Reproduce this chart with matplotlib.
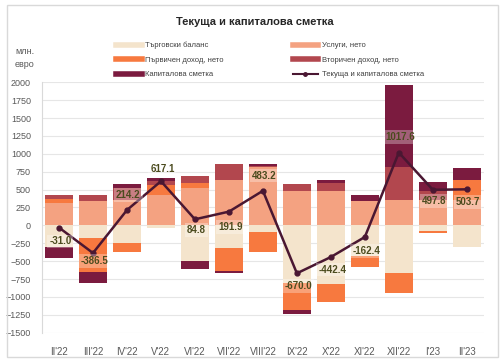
import matplotlib.pyplot as plt
import numpy as np
from matplotlib.lines import Line2D
from matplotlib.patches import Rectangle

plt.rcParams['font.family'] = ['Liberation Sans Narrow', 'Liberation Sans', 'DejaVu Sans']

# months and components (млн. евро)
months = ["II'22", "III'22", "IV'22", "V'22", "VI'22", "VII'22", "VIII'22",
          "IX'22", "X'22", "XI'22", "XII'22", "I'23", "II'23"]
trade = [-305, -181, -245, -43, -492, -316, -97, -800, -817, -422, -668, -82, -296]
services = [311, 343, 350, 420, 520, 640, 815, 483, 483, 339, 353, 360, 350]
primary = [56, -473, -125, 150, 74, -324, -273, -380, -256, -163, -274, -20, 280]
secondary = [55, 84, 170, 45, 97, 215, 20, 92, 106, 0, 459, 125, 0]
capital = [-148, -158, 65, 45, -114, -23, 18, -65, 42, 83, 1146, 115, 170]
total = [-31.0, -386.5, 214.2, 617.1, 84.8, 191.9, 483.2, -670.0, -442.4,
         -162.4, 1017.6, 497.8, 503.7]

names = ['Търговски баланс', 'Услуги, нето', 'Първичен доход, нето',
         'Вторичен доход, нето', 'Капиталова сметка']
colors = ['#F4E4CC', '#F4A281', '#F7793F', '#B2474E', '#7B1B3F']
line_color = '#4A1732'

fig = plt.figure(figsize=(5.02, 3.64), dpi=100)
ax = fig.add_axes([0.0837, 0.086, 0.88, 0.688])

x = np.arange(len(months))
pos_base = np.zeros(len(months))
neg_base = np.zeros(len(months))
for vals, c in zip([trade, services, primary, secondary, capital], colors):
    v = np.array(vals, dtype=float)
    p = np.where(v > 0, v, 0)
    n = np.where(v < 0, v, 0)
    ax.bar(x, p, 0.82, bottom=pos_base, color=c, zorder=2)
    ax.bar(x, n, 0.82, bottom=neg_base, color=c, zorder=2)
    pos_base += p
    neg_base += n

ax.plot(x, total, color=line_color, lw=1.8, marker='o', ms=3.5, zorder=3)

# label offsets in points (above/below the point)
offs = [-10, -6, 11, 9, -8, -11, 11, -9, -9, -10, 11, -8, -9]
for xi, t, o in zip(x, total, offs):
    ax.annotate(f'{t:.1f}', (xi, t), xytext=(1, o), textcoords='offset points',
                ha='center', va='center', fontsize=7, fontweight='bold',
                color='#4B4B1E', zorder=4,
                bbox=dict(boxstyle='square,pad=0.2', fc='white', ec='none', alpha=0.3))

ax.set_xlim(-0.5, len(months) - 0.5)
ax.set_ylim(-1500, 2000)
ax.set_yticks(np.arange(-1500, 2001, 250))
ax.set_xticks(x)
ax.set_xticklabels(months)
ax.tick_params(axis='both', length=0, labelsize=6.5, colors='#595959')
ax.tick_params(axis='x', pad=10, labelsize=7)
ax.tick_params(axis='y', pad=8)
ax.grid(axis='y', color='#E6E6E6', lw=0.8, zorder=0)
for s in ['top', 'right', 'bottom']:
    ax.spines[s].set_visible(False)
ax.spines['left'].set_color('#D9D9D9')

fig.text(0.508, 0.94, 'Текуща и капиталова сметка', ha='center', va='center',
         fontsize=8, fontweight='bold', color='#262626')
fig.text(0.03, 0.84, 'млн.\nевро', ha='left', va='center', fontsize=6.5,
         color='#595959', linespacing=1.6)

handles = [Line2D([], [], color=colors[0], lw=4),
           Line2D([], [], color=colors[2], lw=4),
           Line2D([], [], color=colors[4], lw=4),
           Line2D([], [], color=colors[1], lw=4),
           Line2D([], [], color=colors[3], lw=4),
           Line2D([], [], color=line_color, lw=1.5, marker='o', ms=2.5)]
labels = [names[0], names[2], names[4], names[1], names[3],
          'Текуща и капиталова сметка']
fig.legend(handles, labels, ncol=2, loc='center left', bbox_to_anchor=(0.218, 0.835),
           frameon=False, fontsize=5.5, handlelength=3.3, columnspacing=9.0,
           labelspacing=0.95, handletextpad=0.5, labelcolor='#404040')

fig.patches.append(Rectangle((0.014, 0.019), 0.978, 0.967, transform=fig.transFigure,
                             fill=False, ec='#D9D9D9', lw=1))

fig.savefig('out.png', dpi=100)
